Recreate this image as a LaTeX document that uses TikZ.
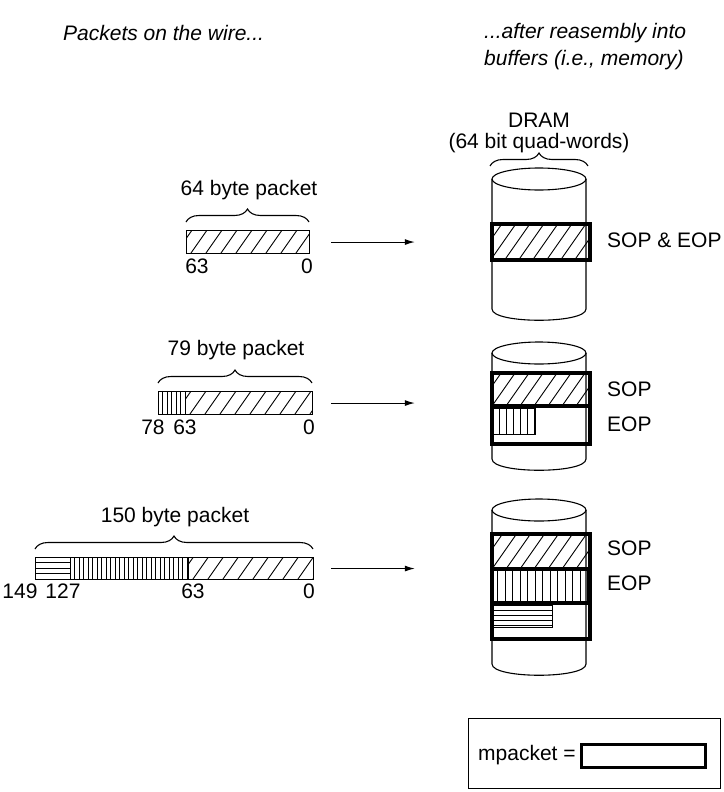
\documentclass[tikz,border=0pt]{standalone}
\usepackage{fontspec}
\setmainfont{Liberation Sans}
\usetikzlibrary{decorations.pathreplacing,arrows.meta}

\newcommand\myhatchD[5]{%
  \begin{scope}
    \clip (#1,#2) rectangle (#3,#4);
    \foreach \i in {0,...,45}{\draw[hl] (#1-40+\i*#5,#4) -- ++({0.7*(#4-#2)},{-(#4-#2)});}
  \end{scope}}
\newcommand\myhatchV[5]{%
  \begin{scope}
    \clip (#1,#2) rectangle (#3,#4);
    \foreach \i in {1,...,60}{\draw[hl] (#1+\i*#5,#2) -- (#1+\i*#5,#4);}
  \end{scope}}
\newcommand\myhatchH[5]{%
  \begin{scope}
    \clip (#1,#2) rectangle (#3,#4);
    \foreach \i in {1,...,20}{\draw[hl] (#1,#2+\i*#5) -- (#3,#2+\i*#5);}
  \end{scope}}
% cylinder: name, cx, top-centre y, side-end y
\newcommand\mycyl[4]{%
  \fill[white] (#2-47,#3) -- (#2-47,#4) .. controls (#2-47,#4+15) and (#2+47,#4+15) .. (#2+47,#4) -- (#2+47,#3) -- cycle;
  \draw[cyl] (#2-47,#3) -- (#2-47,#4) .. controls (#2-47,#4+15) and (#2+47,#4+15) .. (#2+47,#4) -- (#2+47,#3);
  \draw[cyl] (#2,#3) ellipse [x radius=47, y radius=11];
  \node[inner sep=0pt, minimum width=94pt, minimum height={#4-#3+22}, anchor=north] (#1) at (#2,#3-11) {};}

\begin{document}
\begin{tikzpicture}[x=1pt,y=-1pt,
  lbl/.style={font=\fontsize{21}{25}\selectfont, inner sep=0pt},
  ttl/.style={font=\fontsize{21}{25}\selectfont\itshape, inner sep=0pt, anchor=west},
  pkt/.style={draw, line width=1.1pt, inner sep=0pt, anchor=north west},
  mbox/.style={draw, line width=3.8pt, inner sep=0pt, anchor=north west},
  thickline/.style={line width=3.8pt},
  sub/.style={draw, line width=1pt},
  cyl/.style={line width=1.1pt},
  brc/.style={decorate, decoration={brace, amplitude=13pt}, line width=1.1pt},
  arr/.style={-{Latex[length=10pt,width=6pt]}, line width=1.1pt},
  hl/.style={line width=0.9pt}]
\useasboundingbox (0,0) rectangle (723,792);

% titles
\node[ttl] (t1) at (63,33) {Packets on the wire...};
\node[ttl] (t2) at (484,33) {...after reasembly into};
\node[ttl] (t3) at (484,60) {buffers (i.e., memory)};

% DRAM header
\node[lbl] (dram) at (539,120) {DRAM};
\node[lbl] (qw) at (539,143) {(64 bit quad-words)};
\draw[brc] (490,166) -- (588,166);

% ---------- packet 1 ----------
\node[pkt, minimum width=123pt, minimum height=23pt] (p1) at (186,230) {};
\myhatchD{186}{230}{309}{253}{15}
\node[pkt, minimum width=123pt, minimum height=23pt] at (186,230) {};
\draw[brc] (186,222) -- (309,222);
\node[lbl] (p1t) at (249,190) {64 byte packet};
\node[lbl] (p1a) at (197,266) {63};
\node[lbl, anchor=east] (p1b) at (313,266) {0};

\mycyl{c1}{539}{179}{309}
\myhatchD{490}{222}{588}{258}{14}
\node[mbox, minimum width=98pt, minimum height=36pt] (b1) at (490,222) {};
\node[lbl, anchor=west] (s1) at (607,240) {SOP \& EOP};
\draw[arr, shorten <=21pt, shorten >=77pt] (p1.east) -- (p1.east -| c1.west);

% ---------- packet 2 ----------
\node[pkt, minimum width=154pt, minimum height=23pt] (p2) at (158,391) {};
\myhatchV{158}{391}{185}{414}{4.5}
\myhatchD{185}{391}{312}{414}{15}
\node[pkt, minimum width=154pt, minimum height=23pt] at (158,391) {};
\draw[hl] (185,391) -- (185,414);
\draw[brc] (158,383) -- (312,383);
\node[lbl] (p2t) at (236,350) {79 byte packet};
\node[lbl] (p2a) at (153,427) {78};
\node[lbl] (p2b) at (185,427) {63};
\node[lbl, anchor=east] (p2c) at (315,427) {0};

\mycyl{c2}{539}{353}{459}
\myhatchD{490}{371}{588}{406}{14}
\myhatchV{492}{408}{535}{434}{7}
\draw[sub] (492,408) rectangle (535,434);
\node[mbox, minimum width=98pt, minimum height=71pt] (b2) at (490,371) {};
\draw[thickline] (490,406) -- (588,406);
\node[lbl, anchor=west] (s2) at (607,389) {SOP};
\node[lbl, anchor=west] (e2) at (607,424) {EOP};
\draw[arr, shorten <=18pt, shorten >=77pt] (p2.east) -- (p2.east -| c2.west);

% ---------- packet 3 ----------
\node[pkt, minimum width=278pt, minimum height=22pt] (p3) at (35,557) {};
\myhatchH{35}{557}{70}{579}{5.5}
\myhatchV{70}{557}{188}{579}{4.5}
\myhatchD{188}{557}{313}{579}{15}
\node[pkt, minimum width=278pt, minimum height=22pt] at (35,557) {};
\draw[hl] (70,557) -- (70,579);
\draw[hl] (188,557) -- (188,579);
\draw[brc] (35,549) -- (313,549);
\node[lbl] (p3t) at (175,517) {150 byte packet};
\node[lbl] (p3a) at (20,591) {149};
\node[lbl] (p3b) at (63,591) {127};
\node[lbl] (p3c) at (193,591) {63};
\node[lbl, anchor=east] (p3d) at (315,591) {0};

\mycyl{c3}{539}{510}{664}
\myhatchD{490}{532}{588}{569}{14}
\myhatchV{490}{569}{588}{603}{7.5}
\myhatchH{492}{605}{552}{627}{5}
\draw[sub] (492,605) rectangle (552,627);
\node[mbox, minimum width=98pt, minimum height=105pt] (b3) at (490,532) {};
\draw[thickline] (490,569) -- (588,569);
\draw[thickline] (490,603) -- (588,603);
\node[lbl, anchor=west] (s3) at (607,548) {SOP};
\node[lbl, anchor=west] (e3) at (607,583) {EOP};
\draw[arr, shorten <=17pt, shorten >=77pt] (p3.east) -- (p3.east -| c3.west);

% ---------- legend ----------
\node[draw, line width=1pt, inner sep=0pt, anchor=north west, minimum width=252pt, minimum height=70pt] (leg) at (468,718) {};
\node[lbl, anchor=west] (mp) at (478,755) {mpacket =};
\node[draw, line width=3.4pt, inner sep=0pt, anchor=north west, minimum width=124pt, minimum height=23pt] (mb) at (580,743) {};
\end{tikzpicture}
\end{document}
